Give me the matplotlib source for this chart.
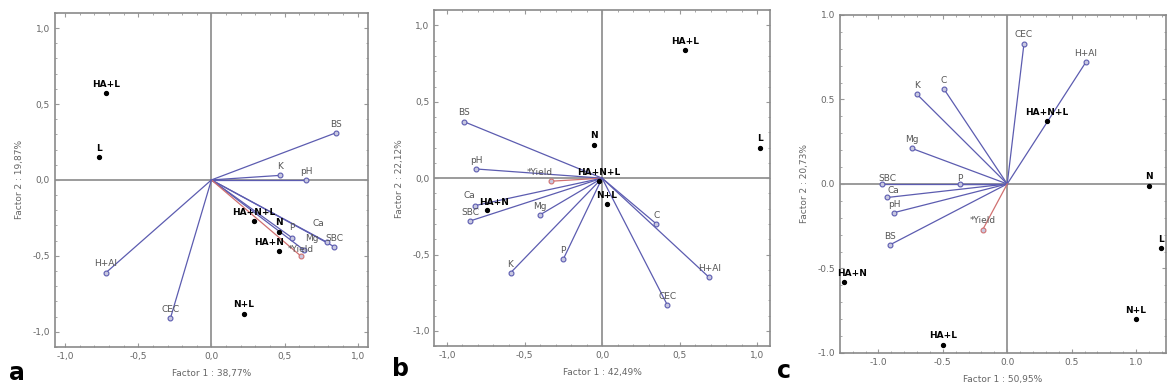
import matplotlib
matplotlib.use("Agg")
import matplotlib.pyplot as plt
from matplotlib.ticker import MultipleLocator, FuncFormatter

# panel a
a_vars = ["BS", "K", "pH", "Ca", "SBC", "P", "Mg", "*Yield", "H+Al", "CEC"]
a_vx = [0.85, 0.47, 0.65, 0.79, 0.84, 0.55, 0.63, 0.61, -0.72, -0.28]
a_vy = [0.31, 0.03, 0.00, -0.41, -0.44, -0.38, -0.46, -0.50, -0.61, -0.91]
a_trt = ["HA+L", "L", "HA+N+L", "N", "HA+N", "N+L"]
a_tx = [-0.72, -0.77, 0.29, 0.46, 0.46, 0.22]
a_ty = [0.57, 0.15, -0.27, -0.34, -0.47, -0.88]

# panel b
b_vars = ["BS", "pH", "*Yield", "Ca", "SBC", "Mg", "K", "P", "C", "H+Al", "CEC"]
b_vx = [-0.89, -0.81, -0.33, -0.82, -0.85, -0.40, -0.59, -0.25, 0.35, 0.69, 0.42]
b_vy = [0.37, 0.06, -0.02, -0.18, -0.28, -0.24, -0.62, -0.53, -0.30, -0.65, -0.83]
b_trt = ["HA+L", "N", "L", "HA+N+L", "HA+N", "N+L"]
b_tx = [0.535, -0.05, 1.02, -0.02, -0.74, 0.03]
b_ty = [0.84, 0.22, 0.20, -0.02, -0.21, -0.17]

# panel c
c_vars = ["CEC", "H+Al", "K", "C", "Mg", "SBC", "Ca", "P", "pH", "BS", "*Yield"]
c_vx = [0.13, 0.61, -0.70, -0.49, -0.74, -0.97, -0.93, -0.37, -0.88, -0.91, -0.19]
c_vy = [0.83, 0.72, 0.53, 0.56, 0.21, 0.00, -0.08, 0.00, -0.17, -0.36, -0.27]
c_trt = ["HA+N+L", "N", "L", "HA+N", "N+L", "HA+L"]
c_tx = [0.31, 1.10, 1.19, -1.27, 1.00, -0.50]
c_ty = [0.37, -0.01, -0.38, -0.58, -0.80, -0.95]

vec_col = "#5c5cb0"
red_col = "#d07070"
grey = "#666666"

fig = plt.figure(figsize=(11.68, 3.92), dpi=100)


def biplot(ax, vars_, vx, vy, trt, tx, ty, xlim, ylim, xlab, ylab, dec,
           offs, toffs):
    ax.axhline(0, color="#8a8a8a", lw=1.2, zorder=1)
    ax.axvline(0, color="#8a8a8a", lw=1.2, zorder=1)
    for name, x, y in zip(vars_, vx, vy):
        col = red_col if "Yield" in name else vec_col
        ax.plot([0, x], [0, y], color=col, lw=0.9, zorder=2)
        ax.plot(x, y, "o", ms=3.5, mfc="#c8c8e0", mec=col, mew=0.8, zorder=3)
        dx, dy = offs.get(name, (0, 3))
        ax.annotate(name, (x, y), xytext=(dx, dy), textcoords="offset points",
                    ha="center", va="bottom", fontsize=6.5, color="#555555",
                    zorder=4)
    ax.plot(tx, ty, "o", ms=2.8, color="black", zorder=5)
    for name, x, y in zip(trt, tx, ty):
        dx, dy = toffs.get(name, (0, 3))
        ax.annotate(name, (x, y), xytext=(dx, dy), textcoords="offset points",
                    ha="center", va="bottom", fontsize=6.5, fontweight="bold",
                    color="black", zorder=6)
    ax.set_xlim(xlim)
    ax.set_ylim(ylim)
    ax.xaxis.set_major_locator(MultipleLocator(0.5))
    ax.yaxis.set_major_locator(MultipleLocator(0.5))
    ax.xaxis.set_minor_locator(MultipleLocator(0.1))
    ax.yaxis.set_minor_locator(MultipleLocator(0.1))
    fmt = FuncFormatter(lambda v, p: f"{v:.1f}".replace(".", dec).replace("-0" + dec + "0", "0" + dec + "0"))
    ax.xaxis.set_major_formatter(fmt)
    ax.yaxis.set_major_formatter(fmt)
    ax.tick_params(which="both", direction="in", top=True, right=True,
                   colors="#999999", labelcolor=grey, labelsize=6.5)
    ax.tick_params(which="major", length=3)
    ax.tick_params(which="minor", length=1.5)
    for s in ax.spines.values():
        s.set_color("#8a8a8a")
        s.set_linewidth(1.2)
    ax.set_xlabel(xlab, fontsize=6.5, color=grey, labelpad=6)
    ax.set_ylabel(ylab, fontsize=6.5, color=grey, labelpad=6)


ax1 = fig.add_axes([0.047, 0.115, 0.268, 0.852])
biplot(ax1, a_vars, a_vx, a_vy, a_trt, a_tx, a_ty, (-1.07, 1.07), (-1.1, 1.1),
       "Factor 1 : 38,77%", "Factor 2 : 19,87%", ",",
       {"Ca": (-6, 10), "*Yield": (0, 1), "Mg": (6, 5), "P": (0, 4)},
       {"HA+N": (-7, 3)})

ax2 = fig.add_axes([0.372, 0.117, 0.287, 0.857])
biplot(ax2, b_vars, b_vx, b_vy, b_trt, b_tx, b_ty, (-1.08, 1.08), (-1.1, 1.1),
       "Factor 1 : 42,49%", "Factor 2 : 22,12%", ",",
       {"*Yield": (-8, 3), "Ca": (-4, 4)},
       {"HA+N": (5, 2)})

ax3 = fig.add_axes([0.719, 0.0995, 0.279, 0.8625])
biplot(ax3, c_vars, c_vx, c_vy, c_trt, c_tx, c_ty, (-1.30, 1.23), (-1.0, 1.0),
       "Factor 1 : 50,95%", "Factor 2 : 20,73%", ".",
       {"Ca": (4, 2), "SBC": (4, 1), "P": (0, 1)},
       {"HA+N": (6, 3)})

fig.text(0.008, 0.03, "a", fontsize=17, fontweight="bold")
fig.text(0.336, 0.04, "b", fontsize=17, fontweight="bold")
fig.text(0.665, 0.035, "c", fontsize=17, fontweight="bold")

fig.savefig("out.png", dpi=100)
